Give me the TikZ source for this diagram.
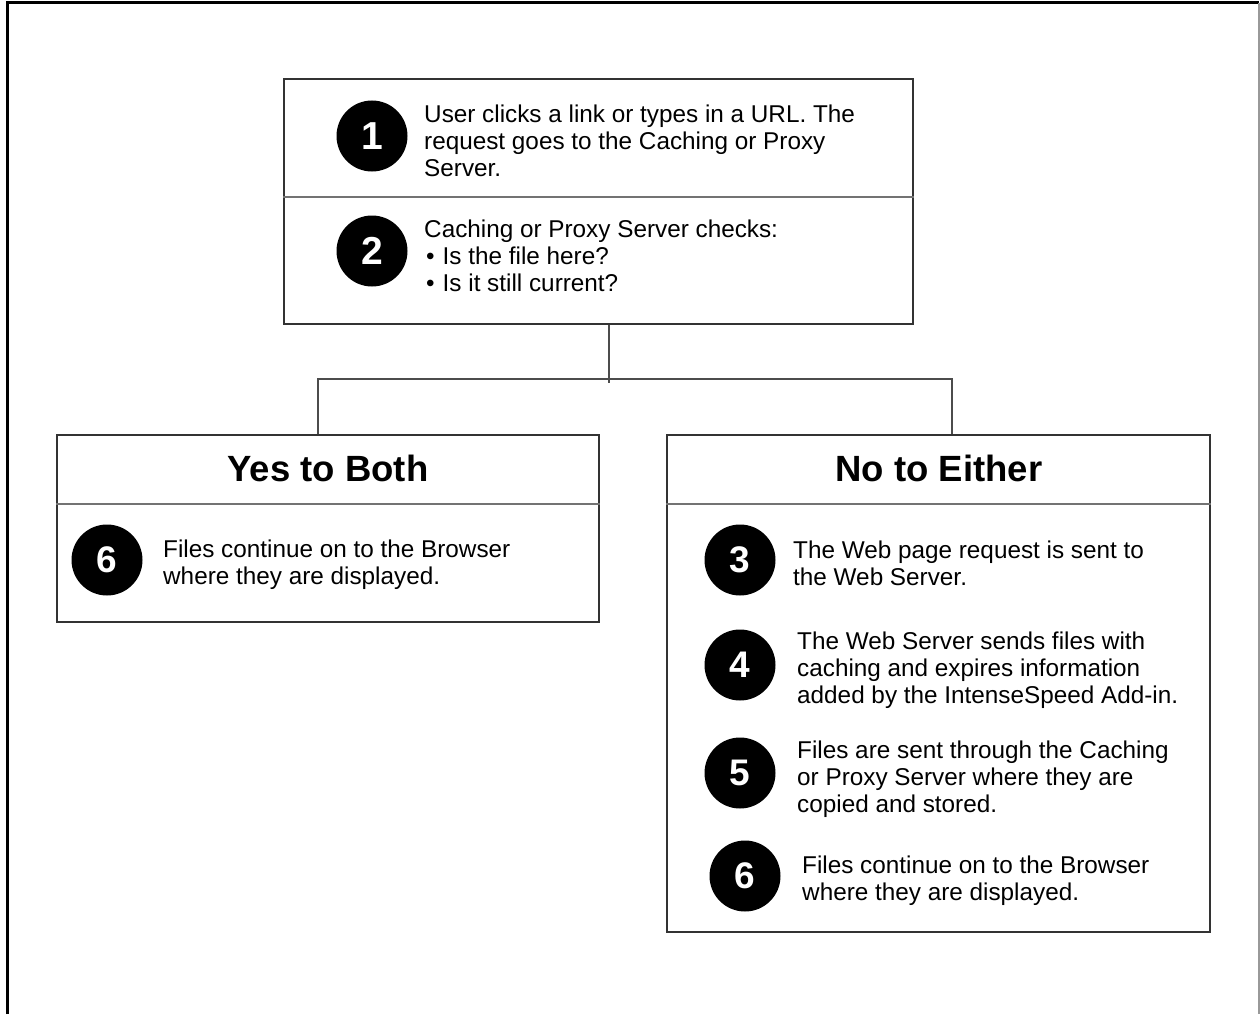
\documentclass[tikz,border=0pt]{standalone}
\usepackage{fontspec}
\setmainfont{Liberation Sans}
\begin{document}
\begin{tikzpicture}[x=1pt,y=-1pt,
  box/.style={draw=black!80, line width=1.3pt, rectangle, inner sep=0pt},
  divider/.style={draw=black!55, line width=1.6pt},
  conn/.style={draw=black!70, line width=1.3pt},
  num/.style={circle, fill=black, minimum size=71pt, inner sep=0pt, text=white, font=\fontsize{37}{37}\selectfont\bfseries},
  bignum/.style={num, font=\fontsize{39}{39}\selectfont\bfseries},
  body/.style={anchor=base west, align=left, inner sep=0pt, font=\fontsize{24.3}{27}\selectfont},
  head/.style={anchor=base, inner sep=0pt, font=\fontsize{36.5}{37}\selectfont\bfseries}]
\useasboundingbox (0,0) rectangle (1260,1014);
% outer frame (top and left black, right grey, no bottom)
\draw[line width=3pt, black] (7,1014) -- (7,3) -- (1259,3);
\draw[line width=1.5pt, black!40] (1259,3) -- (1259,1014);

% boxes
\node[box, minimum width=629pt, minimum height=245pt] (top) at (598.5,201.5) {};
\node[box, minimum width=542pt, minimum height=187pt] (yes) at (328,528.5) {};
\node[box, minimum width=543pt, minimum height=497pt] (no) at (938.5,683.5) {};

% dividers
\coordinate (td) at (0,197);
\coordinate (hd) at (0,504);
\draw[divider] (top.west |- td) -- (top.east |- td);
\draw[divider] (yes.west |- hd) -- (yes.east |- hd);
\draw[divider] (no.west |- hd) -- (no.east |- hd);

% connectors
\coordinate (jb) at (609,383);
\coordinate (hl) at (318,379);
\coordinate (hr) at (952,379);
\draw[conn] (top.south -| jb) -- (jb);
\draw[conn] (yes.north -| hl) -- (hl) -- (hr) -- (no.north -| hr);

% top box content (anchor = baseline of the last line)
\node[bignum] (n1) at (372,136) {1};
\node[body] (t1) at (424,176) {User clicks a link or types in a URL. The\\request goes to the Caching or Proxy\\Server.};
\node[bignum] (n2) at (372,251) {2};
\node[body] (t2) at (424,291) {Caching or Proxy Server checks:\\\hspace{2pt}•\hspace{8pt}Is the file here?\\\hspace{2pt}•\hspace{8pt}Is it still current?};

% headers
\node[head] (hy) at (328,481) {Yes to Both};
\node[head] (hn) at (939,481) {No to Either};

% left box
\node[num] (y6) at (107,560) {6};
\node[body] (ty6) at (163,584) {Files continue on to the Browser\\where they are displayed.};

% right box
\node[num] (n3) at (740,560) {3};
\node[body] (t3) at (793,585) {The Web page request is sent to\\the Web Server.};
\node[num] (n4) at (740,665) {4};
\node[body] (t4) at (797,703) {The Web Server sends files with\\caching and expires information\\added by the IntenseSpeed Add-in.};
\node[num] (n5) at (740,773) {5};
\node[body] (t5) at (797,812) {Files are sent through the Caching\\or Proxy Server where they are\\copied and stored.};
\node[num] (n6) at (745,876) {6};
\node[body] (t6) at (802,900) {Files continue on to the Browser\\where they are displayed.};
\end{tikzpicture}
\end{document}
